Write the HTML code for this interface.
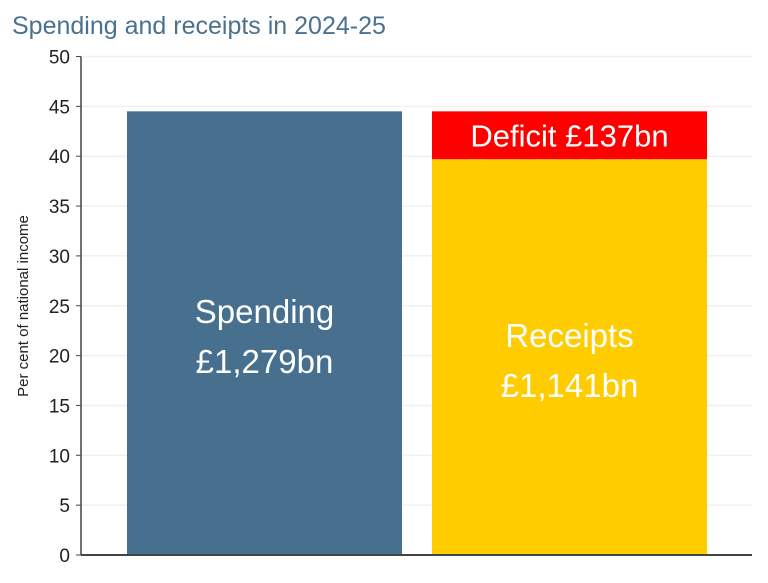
<!DOCTYPE html>
<html><head><meta charset="utf-8"><style>
body{margin:0;background:#fff;width:768px;height:578px;overflow:hidden;font-family:"Liberation Sans",sans-serif}
</style></head><body>
<svg width="768" height="578">
<text x="12" y="34" font-size="25" fill="#4a7190">Spending and receipts in 2024-25</text>
<g id="grid"></g><g id="bars"></g><g id="axis"></g>
<text transform="translate(28,306) rotate(-90)" text-anchor="middle" font-size="15" fill="#222">Per cent of national income</text>
</svg>
<script>
const ticks=[0,5,10,15,20,25,30,35,40,45,50];
const spending=44.5;
const receipts=39.7;
const labels=["Spending","£1,279bn"];
const receiptLabels=["Receipts","£1,141bn"];
const deficitLabel="Deficit £137bn";
const NS="http://www.w3.org/2000/svg";
const y=v=>555-v*9.97;
function mk(t,a,p){const e=document.createElementNS(NS,t);for(const k in a)e.setAttribute(k,a[k]);p.appendChild(e);return e;}
const g=document.getElementById('grid'),b=document.getElementById('bars'),ax=document.getElementById('axis');
ticks.forEach(t=>{
 const l=mk('line',{x1:81,x2:752,y1:y(t),y2:y(t),stroke:'#f0f0f0','stroke-width':1.5},g);
 
 
 mk('line',{x1:76,x2:81,y1:y(t),y2:y(t),stroke:'#444'},ax);
 const tx=mk('text',{x:70,y:y(t)+7,'text-anchor':'end','font-size':19,fill:'#222'},ax);
 tx.textContent=t;
 
 
});
mk('line',{x1:81,x2:81,y1:y(50),y2:y(0),stroke:'#444','stroke-width':1.5},ax);
mk('line',{x1:81,x2:752,y1:y(0),y2:y(0),stroke:'#444','stroke-width':2},ax);
const s=mk('rect',{x:127,width:275,y:y(spending),height:y(0)-y(spending),fill:'#47708f'},b);


const r=mk('rect',{x:432,width:275,y:y(receipts),height:y(0)-y(receipts),fill:'#ffcc00'},b);


const d=mk('rect',{x:432,width:275,y:y(spending),height:y(receipts)-y(spending),fill:'#ff0000'},b);


const cy1=(y(spending)+y(0))/2, cy2=(y(receipts)+y(0))/2;
labels.forEach((t,i)=>{const e=mk('text',{x:264.5,y:cy1-10+i*50,'text-anchor':'middle','font-size':33,fill:'#fff'},b);e.textContent=t;
 
 });
receiptLabels.forEach((t,i)=>{const e=mk('text',{x:569.5,y:cy2-10+i*50,'text-anchor':'middle','font-size':33,fill:'#fff'},b);e.textContent=t;
 
 });
const dl=mk('text',{x:569.5,y:(y(spending)+y(receipts))/2+11,'text-anchor':'middle','font-size':31,fill:'#fff'},b);
dl.textContent=deficitLabel;


</script>
</body></html>
